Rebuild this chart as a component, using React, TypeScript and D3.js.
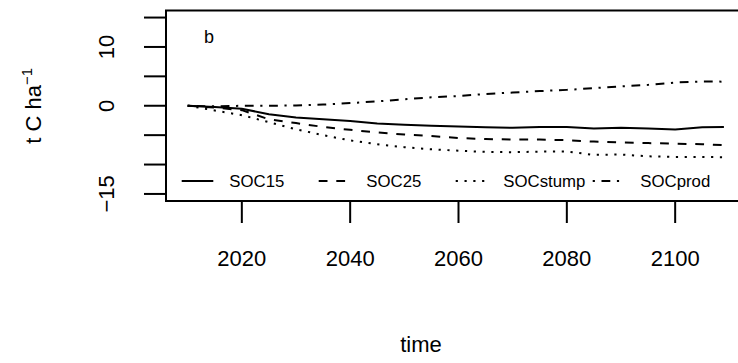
import React from "react";
import * as d3 from "d3";

// values (t C per ha, relative to 2010)
const years = [2010, 2015, 2020, 2025, 2030, 2035, 2040, 2045, 2050, 2055, 2060, 2065, 2070, 2075, 2080, 2085, 2090, 2095, 2100, 2105, 2109];
const soc15 = [0, -0.2, -0.5, -1.45, -1.98, -2.3, -2.6, -3.0, -3.25, -3.4, -3.55, -3.65, -3.75, -3.6, -3.6, -3.85, -3.75, -3.85, -4.05, -3.65, -3.6];
const soc25 = [0, -0.3, -0.75, -2.3, -2.95, -3.6, -4.1, -4.55, -4.9, -5.15, -5.5, -5.65, -5.75, -5.75, -5.85, -6.1, -6.25, -6.35, -6.45, -6.55, -6.7];
const socStump = [0, -0.8, -1.6, -2.8, -4.0, -5.0, -5.9, -6.55, -7.05, -7.4, -7.65, -7.85, -7.9, -7.8, -7.8, -8.35, -8.3, -8.6, -8.7, -8.7, -8.75];
const socProd = [0, -0.1, 0, 0, 0.05, 0.2, 0.45, 0.75, 1.1, 1.45, 1.65, 2.0, 2.25, 2.5, 2.7, 3.0, 3.3, 3.55, 3.95, 4.12, 4.1];

const seriesNames = ["SOC15", "SOC25", "SOCstump", "SOCprod"];
const xTicks = [2020, 2040, 2060, 2080, 2100];
const yTicks = [-15, -10, -5, 0, 5, 10, 15];
const yLabels = [-15, 0, 10];

const W = 738;
const H = 363;
const font = "'Liberation Sans', Arial, Helvetica, sans-serif";
const dashes = ["none", "8.8 8.8", "2.2 6.6", "2.2 6.6 8.8 6.6"];

export default function App() {
  const x = d3.scaleLinear().domain([2006, 2114]).range([166, 751]);
  const y = d3.scaleLinear().domain([-16.2, 16.2]).range([201, 10.5]);
  const fmt = d3.format("d");

  const allSeries = [soc15, soc25, socStump, socProd];
  const line = d3
    .line<number>()
    .x((_, i) => x(years[i]))
    .y((d) => y(d));

  const legX0 = 181.7;
  const legStep = 137;
  const legY = 181;

  return (
    <div style={{ position: "absolute", left: 0, top: 0 }}>
      <svg width={W} height={H} style={{ display: "block", background: "#fff" }} fontFamily={font}>
        {/* series */}
        {allSeries.map((s, i) => (
          <path
            key={seriesNames[i]}
            d={line(s) || ""}
            fill="none"
            stroke="#000"
            strokeWidth={2}
            strokeDasharray={dashes[i]}
          />
        ))}

        {/* plot box */}
        <rect x={166} y={y(16.2)} width={751 - 166} height={y(-16.2) - y(16.2)} fill="none" stroke="#000" strokeWidth={2} />

        {/* y axis */}
        {yTicks.map((t) => (
          <line key={t} x1={144} x2={166} y1={y(t)} y2={y(t)} stroke="#000" strokeWidth={2} />
        ))}
        {yLabels.map((t) => (
          <text
            key={t}
            transform={`translate(113.5,${y(t)}) rotate(-90)`}
            textAnchor="middle"
            fontSize={22}
          >
            {t < 0 ? "\u2212" + fmt(-t) : fmt(t)}
          </text>
        ))}

        {/* x axis */}
        {xTicks.map((t) => (
          <g key={t}>
            <line x1={x(t)} x2={x(t)} y1={201} y2={223} stroke="#000" strokeWidth={2} />
            <text x={x(t)} y={266} textAnchor="middle" fontSize={22}>
              {fmt(t)}
            </text>
          </g>
        ))}

        {/* axis titles */}
        <text x={421} y={352} textAnchor="middle" fontSize={22}>
          time
        </text>
        <text transform={`translate(40.5,${y(0)}) rotate(-90)`} textAnchor="middle" fontSize={22}>
          t C ha
          <tspan fontSize={15} dy={-9}>
            {"\u22121"}
          </tspan>
        </text>

        {/* panel tag */}
        <text x={204} y={43} fontSize={18}>
          b
        </text>

        {/* legend */}
        {seriesNames.map((n, i) => {
          const lx = legX0 + i * legStep;
          return (
            <g key={n}>
              <line
                x1={lx}
                x2={lx + 31.6}
                y1={legY}
                y2={legY}
                stroke="#000"
                strokeWidth={2}
                strokeDasharray={dashes[i]}
              />
              <text x={lx + 47.6} y={legY} dominantBaseline="central" fontSize={16.8}>
                {n}
              </text>
            </g>
          );
        })}
      </svg>
    </div>
  );
}
